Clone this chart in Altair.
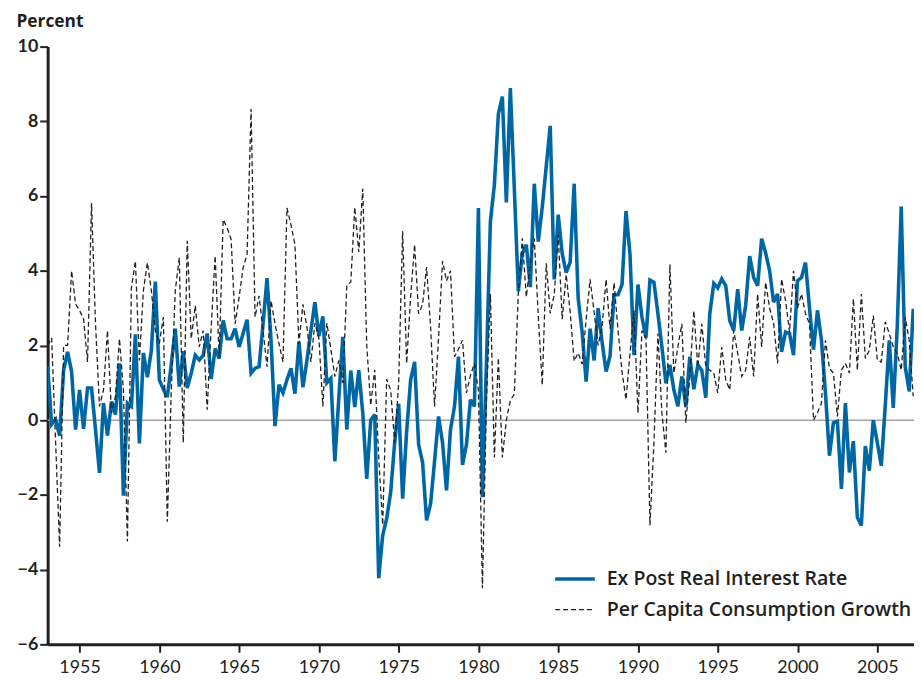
import altair as alt
import pandas as pd

# Quarterly observations starting 1953:Q1
START_YEAR = 1953.0

series_names = ["Ex Post Real Interest Rate", "Per Capita Consumption Growth"]

real_rate = [
    1.45, -0.11, 0.02, -0.42, 1.34, 1.83, 1.3, -0.25, 0.81, -0.23,
    0.86, 0.86, -0.25, -1.41, 0.46, -0.41, 0.5, 0.15, 1.52, -2.02,
    0.46, 0.37, 2.3, -0.62, 1.8, 1.15, 1.87, 3.71, 1.08, 0.83,
    0.62, 1.5, 2.45, 0.9, 1.85, 0.86, 1.26, 1.74, 1.61, 1.74,
    2.32, 1.1, 1.92, 1.65, 2.67, 2.18, 2.18, 2.45, 1.96, 2.32,
    2.69, 1.26, 1.39, 1.43, 2.58, 3.8, 2.14, -0.16, 0.95, 0.73,
    1.08, 1.39, 0.71, 2.1, 0.88, 1.6, 2.4, 3.16, 2.25, 2.78,
    1.0, 1.12, -1.1, 0.6, 2.23, -0.25, 1.33, 0.35, 1.34, 0.2,
    -1.57, 0.0, 0.15, -4.23, -3.08, -2.63, -1.93, -0.6, 0.44, -2.1,
    -0.3, 1.08, 1.56, -0.65, -1.13, -2.68, -2.24, -1.1, 0.1, -0.6,
    -1.88, -0.25, 0.37, 1.7, -1.2, -0.65, 0.55, 0.37, 5.68, -2.06,
    1.5, 5.32, 6.3, 8.2, 8.66, 5.83, 8.89, 6.2, 3.45, 4.46,
    4.7, 3.56, 6.33, 4.78, 5.7, 6.8, 7.88, 3.77, 5.5, 4.46,
    3.95, 4.23, 6.33, 3.27, 2.36, 1.03, 2.45, 1.6, 3.0, 2.1,
    1.3, 1.72, 3.36, 3.36, 3.63, 5.6, 4.44, 1.74, 3.63, 2.76,
    2.21, 3.75, 3.69, 2.85, 1.96, 0.99, 1.48, 0.81, 0.37, 1.17,
    0.37, 1.7, 0.83, 1.48, 1.33, 0.6, 2.85, 3.66, 3.54, 3.78,
    3.6, 2.67, 2.4, 3.51, 2.4, 3.07, 4.39, 3.82, 3.6, 4.86,
    4.48, 4.0, 3.16, 3.38, 1.83, 2.36, 2.32, 1.74, 3.73, 3.82,
    4.22, 3.0, 1.89, 2.94, 2.14, 0.73, -0.95, -0.07, -0.03, -1.84,
    0.46, -1.4, -0.56, -2.6, -2.82, -0.69, -1.35, 0.0, -0.6, -1.22,
    0.4, 2.14, 0.33, 2.5, 5.72, 1.43, 0.77, 2.98,
]

consumption_growth = [
    2.0, 2.2, -0.6, -3.39, 2.0, 2.0, 4.0, 3.11, 2.94, 2.71,
    1.56, 5.81, 2.58, 0.37, 0.81, 2.4, 0.19, 0.64, 2.18, 0.8,
    -3.25, 3.55, 4.26, 1.6, 3.47, 4.22, 3.47, 2.4, 2.05, 2.76,
    -2.72, 0.8, 3.47, 4.35, -0.6, 4.8, 2.18, 3.07, 1.96, 2.4,
    0.28, 2.5, 4.4, 1.7, 5.37, 5.15, 4.84, 2.58, 3.29, 4.08,
    4.44, 8.33, 2.76, 3.33, 2.4, 1.43, 3.2, 2.58, 2.05, 1.56,
    5.68, 5.23, 4.7, 2.05, 3.1, 2.5, 1.56, 2.6, 2.2, 0.37,
    2.6, 1.9, 1.17, 1.6, 1.0, 3.6, 3.7, 5.7, 4.5, 6.2,
    2.0, 0.4, 1.35, -1.0, -2.8, 1.1, 0.8, -0.6, 1.0, 5.06,
    1.52, 3.3, 4.7, 2.85, 3.1, 4.1, 2.5, 0.37, 2.2, 4.26,
    3.73, 4.0, 1.7, 1.9, 2.14, 0.73, 1.2, 1.52, 0.8, -4.5,
    0.5, 3.38, -1.0, 1.67, -1.0, 0.0, 0.53, 0.7, 3.4, 4.87,
    3.3, 4.2, 4.87, 2.8, 0.94, 4.2, 2.86, 3.36, 4.96, 2.7,
    3.9, 2.9, 1.58, 1.8, 1.5, 2.7, 3.77, 2.9, 2.0, 2.5,
    3.77, 2.45, 3.68, 2.4, 1.3, 0.55, 1.79, 2.93, 0.19, 2.4,
    2.2, -2.81, -0.6, 2.32, 0.19, -0.87, 4.17, 1.26, 1.96, 2.58,
    -0.07, 1.17, 2.93, 1.43, 2.58, 1.43, 1.34, 1.26, 0.73, 1.96,
    1.08, 0.81, 2.4, 1.79, 1.17, 1.34, 2.23, 1.17, 3.38, 1.96,
    3.69, 3.0, 2.6, 1.52, 3.78, 3.2, 2.36, 4.0, 3.0, 3.38,
    2.85, 2.58, 0.0, 0.2, 0.46, 2.14, 1.39, 1.26, 0.1, 1.34,
    1.52, 1.26, 3.25, 1.34, 3.38, 1.65, 1.87, 2.8, 1.61, 1.56,
    2.63, 2.32, 1.96, 1.79, 1.34, 2.76, 2.14, 0.64,
]

year_ticks = [1955, 1960, 1965, 1970, 1975, 1980, 1985, 1990, 1995, 2000, 2005]
value_ticks = [-6, -4, -2, 0, 2, 4, 6, 8, 10]
series_colors = ["#0067a5", "#231f20"]
series_dashes = [[1, 0], [5, 3]]
series_widths = [3.6, 1.3]

rows = []
for name, vals in zip(series_names, [real_rate, consumption_growth]):
    for i, v in enumerate(vals):
        rows.append({"year": START_YEAR + i / 4.0, "value": v, "series": name})
df = pd.DataFrame(rows)
zero_df = pd.DataFrame({"value": [0]})

INK = "#231f20"
FONT = "Lato"
LEGEND_FONT = "Open Sans"

x_enc = alt.X(
    "year:Q",
    scale=alt.Scale(domain=[1953, 2007.3], nice=False, zero=False),
    axis=alt.Axis(
        values=year_ticks, format="d", title=None, grid=False,
        domainColor=INK, domainWidth=3, tickColor=INK, tickWidth=2, tickSize=8,
        labelFont=FONT, labelFontSize=18, labelColor=INK, labelPadding=6,
        labelFlush=False,
    ),
)
y_enc = alt.Y(
    "value:Q",
    scale=alt.Scale(domain=[-6, 10], nice=False, zero=False),
    axis=alt.Axis(
        values=value_ticks, title="Percent", grid=False,
        domainColor=INK, domainWidth=3, tickColor=INK, tickWidth=2, tickSize=8,
        labelFont=FONT, labelFontSize=18, labelFontWeight="bold", labelColor=INK,
        labelPadding=2, labelFlush=False,
        titleAngle=0, titleAlign="left", titleBaseline="alphabetic",
        titleX=-32, titleY=-20, titleFont=LEGEND_FONT, titleFontSize=17.5,
        titleFontWeight="bold", titleColor=INK,
    ),
)

zero_rule = alt.Chart(zero_df).mark_rule(color="#a3a3a3", strokeWidth=1.5).encode(
    y=alt.Y("value:Q", scale=alt.Scale(domain=[-6, 10], nice=False))
)

legend_kw = dict(title=None, orient="none", legendX=510, legendY=515)

lines = alt.Chart(df).mark_line(clip=True, strokeJoin="miter", strokeMiterLimit=3).encode(
    x=x_enc,
    y=y_enc,
    color=alt.Color(
        "series:N",
        scale=alt.Scale(domain=series_names, range=series_colors),
        legend=alt.Legend(
            symbolType="stroke", symbolSize=1600, symbolStrokeWidth=3,
            labelFont=LEGEND_FONT, labelFontSize=19.7, labelFontWeight=600,
            labelColor=INK, labelOffset=10, rowPadding=0, labelLimit=500,
            **legend_kw,
        ),
    ),
    strokeDash=alt.StrokeDash(
        "series:N",
        scale=alt.Scale(domain=series_names, range=series_dashes),
        legend=alt.Legend(**legend_kw),
    ),
    strokeWidth=alt.StrokeWidth(
        "series:N",
        scale=alt.Scale(domain=series_names, range=series_widths),
        legend=alt.Legend(**legend_kw),
    ),
)

chart = (
    alt.layer(zero_rule, lines)
    .properties(
        width=874,
        height=603,
        autosize=alt.AutoSizeParams(type="none"),
        padding={"left": 40, "top": 36, "right": 0, "bottom": 30},
        background="white",
    )
    .configure_view(stroke=None)
)

chart.save("out.html", embed_options={"renderer": "svg", "actions": False})
